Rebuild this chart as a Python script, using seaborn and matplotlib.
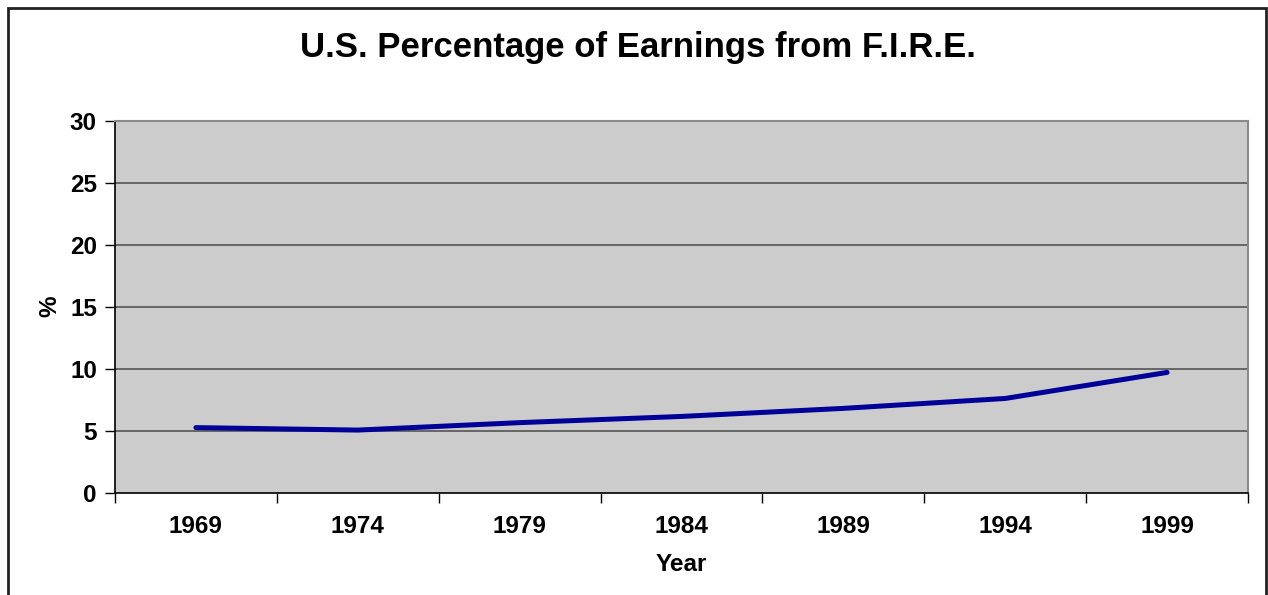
import matplotlib
matplotlib.use("Agg")
import matplotlib.pyplot as plt
import seaborn as sns
import pandas as pd
from matplotlib.patches import Rectangle
from matplotlib.ticker import FixedLocator

years = ["1969", "1974", "1979", "1984", "1989", "1994", "1999"]
values = [5.25, 5.05, 5.65, 6.15, 6.8, 7.6, 9.7]
yticks = [0, 5, 10, 15, 20, 25, 30]

sns.set_style("white")
plt.rcParams['font.family'] = ['Liberation Sans', 'DejaVu Sans']
plt.rcParams['text.color'] = 'black'
plt.rcParams['axes.labelcolor'] = 'black'
plt.rcParams['xtick.color'] = 'black'
plt.rcParams['ytick.color'] = 'black'

W, H = 1268, 595
fig = plt.figure(figsize=(W / 100, H / 100), dpi=100)
ax = fig.add_axes([115 / W, 1 - 492.7 / H, (1248 - 115) / W, (492.7 - 120.7) / H])

df = pd.DataFrame({"Year": years, "pct": values})
sns.lineplot(data=df, x="Year", y="pct", ax=ax, color="#000099", linewidth=3.6, sort=False)

ax.set_facecolor("#CCCCCC")
ax.set_xlim(-0.5, len(years) - 0.5)
ax.set_ylim(0, 30)
ax.set_yticks(yticks)
ax.set_yticklabels([str(v) for v in yticks], fontsize=17.5, fontweight="bold")
ax.set_xticks(range(len(years)))
ax.set_xticklabels(years, fontsize=17.5, fontweight="bold")
ax.xaxis.set_minor_locator(FixedLocator([i - 0.5 for i in range(len(years) + 1)]))
ax.tick_params(axis="x", which="major", bottom=True, length=0, pad=16)
ax.tick_params(axis="x", which="minor", bottom=True, length=7, width=1, color="black", direction="out")
ax.tick_params(axis="y", which="major", left=True, length=7, width=1, color="black", direction="out", pad=6)

for v in yticks[1:-1]:
    ax.axhline(v, color="#555555", linewidth=1.2, zorder=1)

for side in ["top", "right"]:
    ax.spines[side].set_color("#8a8a8a")
    ax.spines[side].set_linewidth(1.5)
for side in ["left", "bottom"]:
    ax.spines[side].set_color("black")
    ax.spines[side].set_linewidth(1.2)

ax.set_xlabel("Year", fontsize=17.5, fontweight="bold", labelpad=11)
ax.set_ylabel("%", fontsize=17.5, fontweight="bold", labelpad=6)

fig.text(638 / W, 1 - 47 / H, "U.S. Percentage of Earnings from F.I.R.E.",
         ha="center", va="center", fontsize=25, fontweight="bold")

fig.patches.append(Rectangle((8 / W, -0.1), (1266 - 8) / W, 1.1 - 8 / H,
                             transform=fig.transFigure, fill=False,
                             edgecolor="#222222", linewidth=2))

fig.savefig("out.png", dpi=100)
